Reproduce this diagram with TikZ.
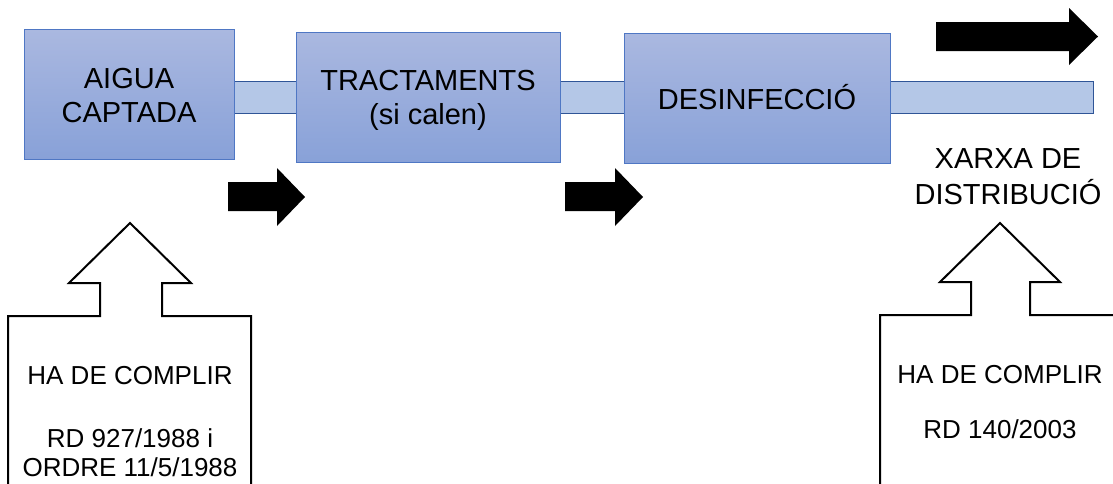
\documentclass[tikz,border=0pt]{standalone}
\usepackage{fontspec}
\setmainfont{Liberation Sans}
\definecolor{boxtop}{RGB}{170,184,224}
\definecolor{boxbot}{RGB}{136,161,216}
\definecolor{boxline}{RGB}{79,119,196}
\definecolor{pipefill}{RGB}{180,199,231}
\definecolor{pipeline}{RGB}{47,85,151}
\tikzset{
  proc/.style={draw=boxline, line width=1.2pt, top color=boxtop, bottom color=boxbot,
    anchor=north west, inner sep=0pt},
  pipebar/.style={draw=pipeline, line width=1.4pt, fill=pipefill, anchor=north west, inner sep=0pt},
  biglbl/.style={anchor=base, inner sep=0pt, font=\fontsize{29}{35}\selectfont},
  smalllbl/.style={anchor=base, inner sep=0pt, font=\fontsize{26}{30}\selectfont},
  blockarrow/.style={fill=black},
  callout/.style={draw=black, line width=2pt, line join=miter, fill=white}
}
\begin{document}
\begin{tikzpicture}[x=1pt,y=-1pt]
\useasboundingbox (0,0) rectangle (1113,483);
\clip (0,0) rectangle (1113,483);
% pipe
\node[pipebar, minimum width=859pt, minimum height=32pt] (pipe) at (234,81) {};
% process boxes
\node[proc, minimum width=210pt, minimum height=130pt] (b1) at (24,29) {};
\node[proc, minimum width=264pt, minimum height=130pt] (b2) at (296,32) {};
\node[proc, minimum width=266pt, minimum height=130pt] (b3) at (624,33) {};
\node[biglbl] (t1a) at (129,88) {AIGUA};
\node[biglbl] (t1b) at (129,122) {CAPTADA};
\node[biglbl] (t2a) at (428,90) {TRACTAMENTS};
\node[biglbl] (t2b) at (428,124) {(si calen)};
\node[biglbl] (t3) at (757,109) {DESINFECCIÓ};
\node[biglbl] (x1) at (1008,168) {XARXA DE};
\node[biglbl] (x2) at (1008,204) {DISTRIBUCIÓ};
% black block arrows
\fill[blockarrow] (228,182) -- (277,182) -- (277,168) -- (305,197) -- (277,226) -- (277,211) -- (228,211) -- cycle;
\fill[blockarrow] (565,182) -- (615,182) -- (615,168) -- (643,197) -- (615,226) -- (615,211) -- (565,211) -- cycle;
\fill[blockarrow] (936,22) -- (1069,22) -- (1069,8) -- (1098,36.5) -- (1069,65) -- (1069,51) -- (936,51) -- cycle;
% callouts
\draw[callout] (8,495) -- (8,316) -- (100,316) -- (100,283) -- (69,283) -- (130,223) -- (191,283) -- (162,283) -- (162,316) -- (251,316) -- (251,495);
\draw[callout] (880,495) -- (880,315) -- (971,315) -- (971,282) -- (940,282) -- (1000,223) -- (1060,282) -- (1030,282) -- (1030,315) -- (1121,315) -- (1121,495);
\node[smalllbl] (c1a) at (130,384) {HA DE COMPLIR};
\node[smalllbl] (c1b) at (130,447) {RD 927/1988 i};
\node[smalllbl] (c1c) at (130,476) {ORDRE 11/5/1988};
\node[smalllbl] (c2a) at (1000,383) {HA DE COMPLIR};
\node[smalllbl] (c2b) at (1000,438) {RD 140/2003};
\end{tikzpicture}
\end{document}
